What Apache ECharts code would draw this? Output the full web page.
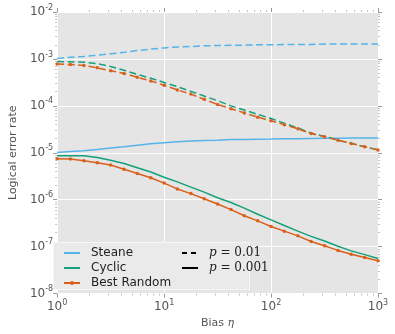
<!DOCTYPE html>
<html>
<head>
<meta charset="utf-8">
<script src="https://cdn.jsdelivr.net/npm/echarts@6/dist/echarts.min.js"></script>
<style>
html, body { margin: 0; padding: 0; background: #fff; }
#main { width: 395px; height: 334px; }
</style>
</head>
<body>
<div id="main"></div>
<script>
// bias values (log spaced, 8 per decade)
var bias = [1, 1.33, 1.78, 2.37, 3.16, 4.22, 5.62, 7.5, 10, 13.3, 17.8, 23.7, 31.6,
  42.2, 56.2, 75, 100, 133, 178, 237, 316, 422, 562, 750, 1000];

// p = 0.01 (dashed)
var steaneHigh = [1.02e-3, 1.08e-3, 1.13e-3, 1.20e-3, 1.29e-3, 1.38e-3, 1.51e-3, 1.62e-3, 1.72e-3,
  1.80e-3, 1.84e-3, 1.91e-3, 1.93e-3, 1.95e-3, 1.97e-3, 2.00e-3, 2.00e-3, 2.02e-3, 2.04e-3,
  2.04e-3, 2.07e-3, 2.07e-3, 2.09e-3, 2.09e-3, 2.09e-3];
var cyclicHigh = [8.77e-4, 8.71e-4, 8.51e-4, 7.94e-4, 6.92e-4, 5.75e-4, 4.68e-4, 3.89e-4, 3.16e-4,
  2.57e-4, 2.04e-4, 1.62e-4, 1.29e-4, 1.00e-4, 8.13e-5, 6.61e-5, 5.37e-5, 4.27e-5, 3.39e-5,
  2.63e-5, 2.24e-5, 1.86e-5, 1.58e-5, 1.35e-5, 1.15e-5];
var randomHigh = [7.76e-4, 7.59e-4, 7.24e-4, 6.46e-4, 5.62e-4, 4.90e-4, 4.07e-4, 3.39e-4, 2.75e-4,
  2.19e-4, 1.78e-4, 1.38e-4, 1.07e-4, 8.71e-5, 7.08e-5, 5.75e-5, 4.79e-5, 3.98e-5, 3.24e-5,
  2.57e-5, 2.19e-5, 1.86e-5, 1.58e-5, 1.35e-5, 1.15e-5];

// p = 0.001 (solid)
var steaneLow = [1.02e-5, 1.06e-5, 1.10e-5, 1.17e-5, 1.26e-5, 1.35e-5, 1.45e-5, 1.55e-5, 1.64e-5,
  1.72e-5, 1.78e-5, 1.82e-5, 1.86e-5, 1.91e-5, 1.93e-5, 1.95e-5, 1.97e-5, 2.00e-5, 2.00e-5,
  2.02e-5, 2.04e-5, 2.04e-5, 2.07e-5, 2.07e-5, 2.07e-5];
var cyclicLow = [8.63e-6, 8.63e-6, 8.61e-6, 7.94e-6, 6.92e-6, 5.89e-6, 4.79e-6, 3.89e-6, 3.02e-6,
  2.40e-6, 1.86e-6, 1.45e-6, 1.10e-6, 8.71e-7, 6.61e-7, 4.90e-7, 3.72e-7, 2.82e-7, 2.14e-7,
  1.66e-7, 1.32e-7, 1.02e-7, 8.13e-8, 6.76e-8, 5.62e-8];
var randomLow = [7.45e-6, 7.35e-6, 6.76e-6, 6.17e-6, 5.50e-6, 4.47e-6, 3.63e-6, 2.95e-6, 2.26e-6,
  1.70e-6, 1.35e-6, 1.05e-6, 8.13e-7, 6.17e-7, 4.57e-7, 3.55e-7, 2.69e-7, 2.14e-7, 1.70e-7,
  1.29e-7, 1.05e-7, 8.32e-8, 6.92e-8, 5.89e-8, 5.01e-8];

var codes = ['Steane', 'Cyclic', 'Best Random'];
var pNames = ['p001', 'p0001'];

var colors = { 'Steane': '#56b4e9', 'Cyclic': '#14a07a', 'Best Random': '#d9601a' };

var myChart = echarts.init(document.getElementById('main'));

function pairs(ys) {
  return bias.map(function (b, i) { return [b, ys[i]]; });
}

function powLabel(v) {
  var e = Math.round(Math.log10(v));
  return '{b|10}{e|' + e + '}';
}

var labelRich = {
  b: { fontSize: 12, color: '#555', fontFamily: 'DejaVu Sans' },
  e: { fontSize: 8, color: '#555', fontFamily: 'DejaVu Sans', padding: [0, 0, 9, 0] }
};

function mkSeries(name, ys, dashed) {
  var rand = name === 'Best Random';
  return {
    name: name,
    type: 'line',
    data: pairs(ys),
    symbol: rand ? 'circle' : 'none',
    symbolSize: 3.5,
    showSymbol: rand,
    itemStyle: { color: colors[name] },
    lineStyle: { color: colors[name], width: 1.5, type: dashed ? [7, 3.5] : 'solid' },
    emphasis: { disabled: true },
    silent: true,
    animation: false
  };
}

var series = [];
series.push(mkSeries('Steane', steaneLow, false));
series.push(mkSeries('Cyclic', cyclicLow, false));
series.push(mkSeries('Best Random', randomLow, false));
series.push(mkSeries('Steane', steaneHigh, true));
series.push(mkSeries('Cyclic', cyclicHigh, true));
series.push(mkSeries('Best Random', randomHigh, true));
// dummy series for the line style legend
series.push({ name: 'p001', type: 'line', data: [], symbol: 'none', lineStyle: { color: '#000', width: 1.6, type: [5, 4] }, itemStyle: { color: '#000' } });
series.push({ name: 'p0001', type: 'line', data: [], symbol: 'none', lineStyle: { color: '#000', width: 1.6 }, itemStyle: { color: '#000' } });

var minorTick = { show: true, splitNumber: 9, length: 2, lineStyle: { color: '#999', width: 0.6 } };

option = {
  animation: false,
  grid: {
    left: 49, right: 17, top: 12, bottom: 40,
    show: true, backgroundColor: '#e5e5e5', borderWidth: 0
  },
  xAxis: [{
    type: 'log', logBase: 10, min: 1, max: 1000,
    name: 'Bias {m|η}',
    nameLocation: 'middle', nameGap: 24,
    nameTextStyle: { color: '#555', fontSize: 11, fontFamily: 'DejaVu Sans',
      rich: { m: { fontFamily: 'DejaVu Serif', fontStyle: 'italic', fontSize: 11, color: '#555' } } },
    axisLine: { show: false },
    axisTick: { show: true, length: 4, lineStyle: { color: '#999' } },
    minorTick: minorTick,
    axisLabel: { formatter: powLabel, rich: labelRich, margin: 5 },
    splitLine: { show: true, lineStyle: { color: '#fff', width: 1 } }
  }, {
    type: 'log', logBase: 10, min: 1, max: 1000, position: 'top',
    axisLine: { show: false },
    axisTick: { show: true, length: 4, lineStyle: { color: '#999' } },
    minorTick: minorTick,
    axisLabel: { show: false },
    splitLine: { show: false }
  }],
  yAxis: [{
    type: 'log', logBase: 10, min: 1e-8, max: 1e-2,
    name: 'Logical error rate',
    nameLocation: 'middle', nameGap: 37,
    nameTextStyle: { color: '#555', fontSize: 11, fontFamily: 'DejaVu Sans' },
    axisLine: { show: false },
    axisTick: { show: true, length: 4, lineStyle: { color: '#999' } },
    minorTick: minorTick,
    axisLabel: { formatter: powLabel, rich: labelRich, margin: 4 },
    splitLine: { show: true, lineStyle: { color: '#fff', width: 1 } }
  }, {
    type: 'log', logBase: 10, min: 1e-8, max: 1e-2, position: 'right',
    axisLine: { show: false },
    axisTick: { show: true, length: 4, lineStyle: { color: '#999' } },
    minorTick: minorTick,
    axisLabel: { show: false },
    splitLine: { show: false }
  }],
  graphic: [{
    type: 'rect', z: 3,
    shape: { x: 53.5, y: 242.5, width: 196, height: 47 },
    style: { fill: '#eaeaea', stroke: '#f6f6f6', lineWidth: 1 }
  }],
  legend: [{
    data: [
      { name: 'Steane', itemStyle: { opacity: 0 } },
      { name: 'Cyclic', itemStyle: { opacity: 0 } },
      { name: 'Best Random' }
    ],
    orient: 'vertical', left: 58, top: 241,
    itemWidth: 16, itemHeight: 5, itemGap: 1,
    textStyle: { color: '#222', fontSize: 12, fontFamily: 'DejaVu Sans', padding: [0, 0, 0, 6], lineHeight: 14 },
    selectedMode: false
  }, {
    data: [
      { name: 'p001', itemStyle: { opacity: 0 }, lineStyle: { type: [5, 4] } },
      { name: 'p0001', itemStyle: { opacity: 0 } }
    ],
    orient: 'vertical', left: 176, top: 241,
    itemWidth: 16, itemHeight: 5, itemGap: 1,
    formatter: function (n) { return n === 'p001' ? '{i|p} = 0.01' : '{i|p} = 0.001'; },
    textStyle: { color: '#222', fontSize: 12, fontFamily: 'DejaVu Serif', padding: [0, 0, 0, 6], lineHeight: 14,
      rich: { i: { fontStyle: 'italic', fontFamily: 'DejaVu Serif', fontSize: 12, color: '#222' } } },
    selectedMode: false
  }],
  series: series
};

myChart.setOption(option);
</script>
</body>
</html>
